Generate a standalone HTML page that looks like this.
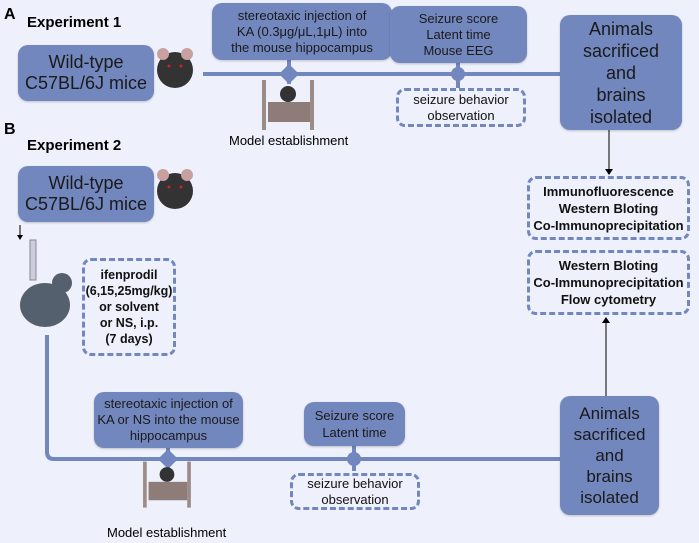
<!DOCTYPE html>
<html><head><meta charset="utf-8"><style>
body{margin:0;width:699px;height:543px;background:#eef0fb;font-family:"Liberation Sans",sans-serif;position:relative;overflow:hidden}
.a{position:absolute}
.b{position:absolute;background:#7387bf;border-radius:10px;color:#1a1a1a;text-align:center;display:flex;align-items:center;justify-content:center;box-shadow:0 1px 2px rgba(0,0,0,.2)}
.d{position:absolute;border:3px dashed #7387bf;border-radius:9px;text-align:center;display:flex;align-items:center;justify-content:center;color:#111}
.h{font-weight:bold;font-size:15px}
</style></head><body>
<svg class="a" style="left:0;top:0" width="699" height="543">
<g stroke="#7387bf" stroke-width="4" fill="none">
<line x1="203" y1="74" x2="562" y2="74"/>
<path d="M47 335 V452 Q47 459 54 459 H560"/>
<line x1="289" y1="60" x2="289" y2="84"/><line x1="458" y1="63" x2="458" y2="88"/>
<line x1="168" y1="448" x2="168" y2="470"/><line x1="354" y1="446" x2="354" y2="471"/>
</g>
<g fill="#7387bf">
<polygon points="289,64 299,74 289,84 279,74"/><circle cx="458" cy="74" r="7"/>
<polygon points="168,449 178,459 168,469 158,459"/><circle cx="354" cy="459" r="7"/>
</g>
<g stroke="#000" stroke-width="1"><line x1="609" y1="130" x2="609" y2="170"/><line x1="606" y1="396" x2="606" y2="322"/><line x1="20" y1="225" x2="20" y2="236"/></g>
<polygon points="605,169 613,169 609,175"/><polygon points="602,323 610,323 606,317"/><polygon points="17,235 23,235 20,240"/>
<g id="m"><ellipse cx="175" cy="70" rx="18" ry="18" fill="#333"/><circle cx="163" cy="54" r="6" fill="#c9a0a0"/><circle cx="187" cy="54" r="6" fill="#c9a0a0"/><circle cx="169" cy="66" r="1.5" fill="#c22"/><circle cx="181" cy="66" r="1.5" fill="#c22"/></g>
<use href="#m" y="121"/>
<g><rect x="262" y="80" width="4" height="50" fill="#9c8c88"/><rect x="310" y="80" width="4" height="50" fill="#9c8c88"/><circle cx="288" cy="94" r="8" fill="#333"/><rect x="268" y="102" width="42" height="20" fill="#8e7c78"/></g>
<g transform="translate(-98,388) scale(0.92)"><rect x="262" y="80" width="4" height="50" fill="#9c8c88"/><rect x="310" y="80" width="4" height="50" fill="#9c8c88"/><circle cx="288" cy="94" r="8" fill="#333"/><rect x="268" y="102" width="42" height="20" fill="#8e7c78"/></g>
<rect x="30" y="240" width="6" height="40" fill="#ccd" stroke="#889"/>
<ellipse cx="45" cy="305" rx="25" ry="22" fill="#55606e"/><circle cx="62" cy="283" r="10" fill="#55606e"/>
</svg>
<div class="a h" style="left:4px;top:6px;font-size:16px">A</div>
<div class="a h" style="left:27px;top:14px">Experiment 1</div>
<div class="a h" style="left:4px;top:121px;font-size:16px">B</div>
<div class="a h" style="left:27px;top:137px">Experiment 2</div>
<div class="b" style="left:18px;top:45px;width:136px;height:56px;font-size:18px;line-height:21px">Wild-type<br>C57BL/6J mice</div>
<div class="b" style="left:18px;top:166px;width:136px;height:56px;font-size:18px;line-height:21px">Wild-type<br>C57BL/6J mice</div>
<div class="b" style="left:212px;top:3px;width:180px;height:57px;font-size:13px;line-height:16px">stereotaxic injection of<br>KA (0.3μg/μL,1μL) into<br>the mouse hippocampus</div>
<div class="b" style="left:390px;top:6px;width:137px;height:57px;font-size:13px;line-height:16px">Seizure score<br>Latent time<br>Mouse EEG</div>
<div class="d" style="left:396px;top:88px;width:124px;height:33px;font-size:13px;line-height:16px">seizure behavior<br>observation</div>
<div class="a" style="left:229px;top:133px;font-size:13px">Model establishment</div>
<div class="b" style="left:560px;top:15px;width:122px;height:115px;font-size:18px;line-height:22px">Animals<br>sacrificed<br>and<br>brains<br>isolated</div>
<div class="d" style="left:527px;top:176px;width:157px;height:58px;font-size:13px;font-weight:bold;line-height:17px">Immunofluorescence<br>Western Bloting<br>Co-Immunoprecipitation</div>
<div class="d" style="left:527px;top:250px;width:157px;height:59px;font-size:13px;font-weight:bold;line-height:17px">Western Bloting<br>Co-Immunoprecipitation<br>Flow cytometry</div>
<div class="d" style="left:82px;top:258px;width:88px;height:92px;font-size:12.5px;font-weight:bold;line-height:16px">ifenprodil<br>(6,15,25mg/kg)<br>or solvent<br>or NS, i.p.<br>(7 days)</div>
<div class="b" style="left:94px;top:392px;width:149px;height:56px;font-size:13px;line-height:16px">stereotaxic injection of<br>KA or NS into the mouse<br>hippocampus</div>
<div class="b" style="left:304px;top:402px;width:101px;height:44px;font-size:13px;line-height:17px">Seizure score<br>Latent time</div>
<div class="d" style="left:290px;top:473px;width:124px;height:31px;font-size:13px;line-height:16px">seizure behavior<br>observation</div>
<div class="a" style="left:107px;top:525px;font-size:13px">Model establishment</div>
<div class="b" style="left:560px;top:396px;width:99px;height:119px;font-size:17px;line-height:21px">Animals<br>sacrificed<br>and<br>brains<br>isolated</div>
</body></html>
